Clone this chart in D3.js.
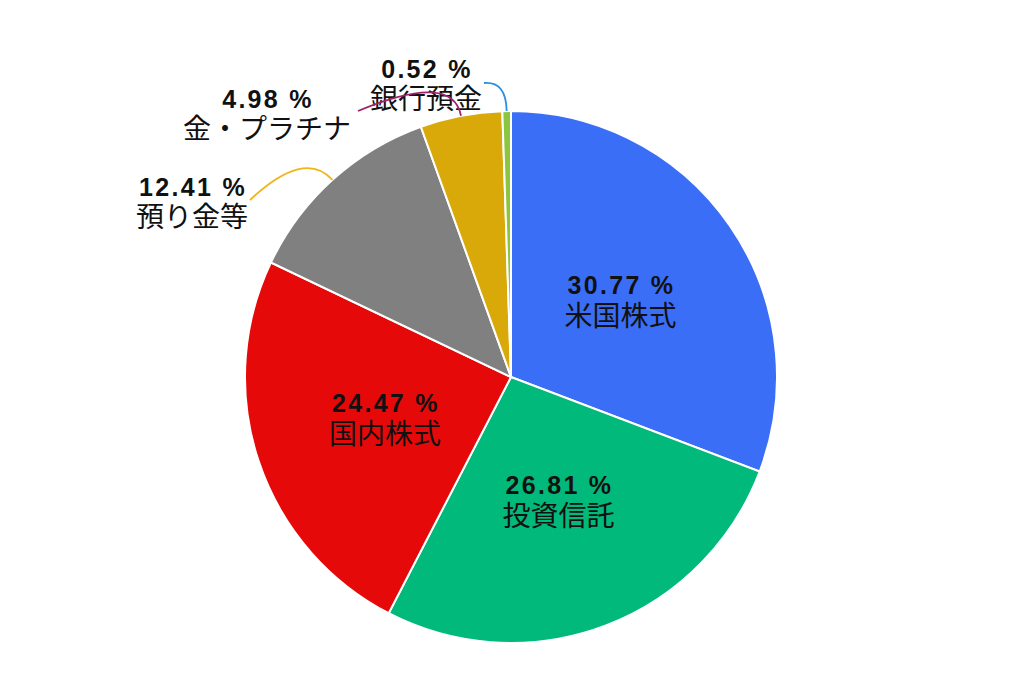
<!DOCTYPE html>
<html><head><meta charset="utf-8">
<script src="https://cdn.jsdelivr.net/npm/d3@7"></script>
<style>html,body{margin:0;padding:0;background:#fff;}</style>
</head><body>
<svg id="chart" width="1024" height="691"></svg>
<script>
const categories = ["米国株式","投資信託","国内株式","預り金等","金・プラチナ","銀行預金"];
const values = [30.77, 26.81, 24.47, 12.41, 4.98, 0.52];
const valueLabels = ["30.77 %","26.81 %","24.47 %","12.41 %","4.98 %","0.52 %"];
const colors = ["#3b6ef6","#00b97a","#e60909","#808080","#d9a909","#8cc63f"];
const leaderColors = [null,null,null,"#f2b418","#a0206a","#2a8fe0"];

const W=1024,H=691, cx=511, cy=377, R=266;
const svg=d3.select("#chart");
const g=svg.append("g").attr("transform",`translate(${cx},${cy})`);
const data=categories.map((c,i)=>({cat:c,value:values[i],label:valueLabels[i],color:colors[i],lc:leaderColors[i]}));
const pie=d3.pie().value(d=>d.value).sort(null);
const arcs=pie(data);
const arc=d3.arc().innerRadius(0).outerRadius(R);
g.selectAll("path.slice").data(arcs).enter().append("path")
  .attr("class","slice").attr("d",arc).attr("fill",d=>d.data.color)
  .attr("stroke","#fff").attr("stroke-width",2);

const numFont="'Liberation Sans', Arial, sans-serif";
const jpFont="'Noto Sans CJK JP', sans-serif";
// outside label layout (page coords of label centre / baselines, leader end, control offset)
const outside = {
  3:{x:192,y1:196,y2:227,end:[250,200],off:42},
  4:{x:267,y1:108,y2:139,end:[358,111],off:45},
  5:{x:426,y1:78,y2:109,end:[484,83],off:30}
};
const labels=svg.append("g");
arcs.forEach((a,i)=>{
  const mid=(a.startAngle+a.endAngle)/2;
  let x,y1,y2;
  if(outside[i]){
    const o=outside[i];
    x=o.x;y1=o.y1;y2=o.y2;
    const p0=[cx+R*Math.sin(mid), cy-R*Math.cos(mid)];
    const pc=[cx+(R+o.off)*Math.sin(mid), cy-(R+o.off)*Math.cos(mid)];
    const p=d3.path();
    p.moveTo(p0[0],p0[1]); p.quadraticCurveTo(pc[0],pc[1],o.end[0],o.end[1]);
    svg.append("path").attr("d",p.toString()).attr("fill","none")
      .attr("stroke",a.data.lc).attr("stroke-width",1.8);
  } else {
    const c=arc.centroid(a);
    x=cx+c[0]; y1=cy+c[1]-7; y2=cy+c[1]+25;
  }
  labels.append("text").attr("x",x+1).attr("y",y1).attr("text-anchor","middle")
    .attr("font-family",numFont).attr("font-weight","bold").attr("font-size",25)
    .attr("letter-spacing",2.3).attr("fill","#111").text(a.data.label);
  labels.append("text").attr("x",x).attr("y",y2).attr("text-anchor","middle")
    .attr("font-family",jpFont).attr("font-size",28).attr("fill","#111").text(a.data.cat);
});
</script>
</body></html>
